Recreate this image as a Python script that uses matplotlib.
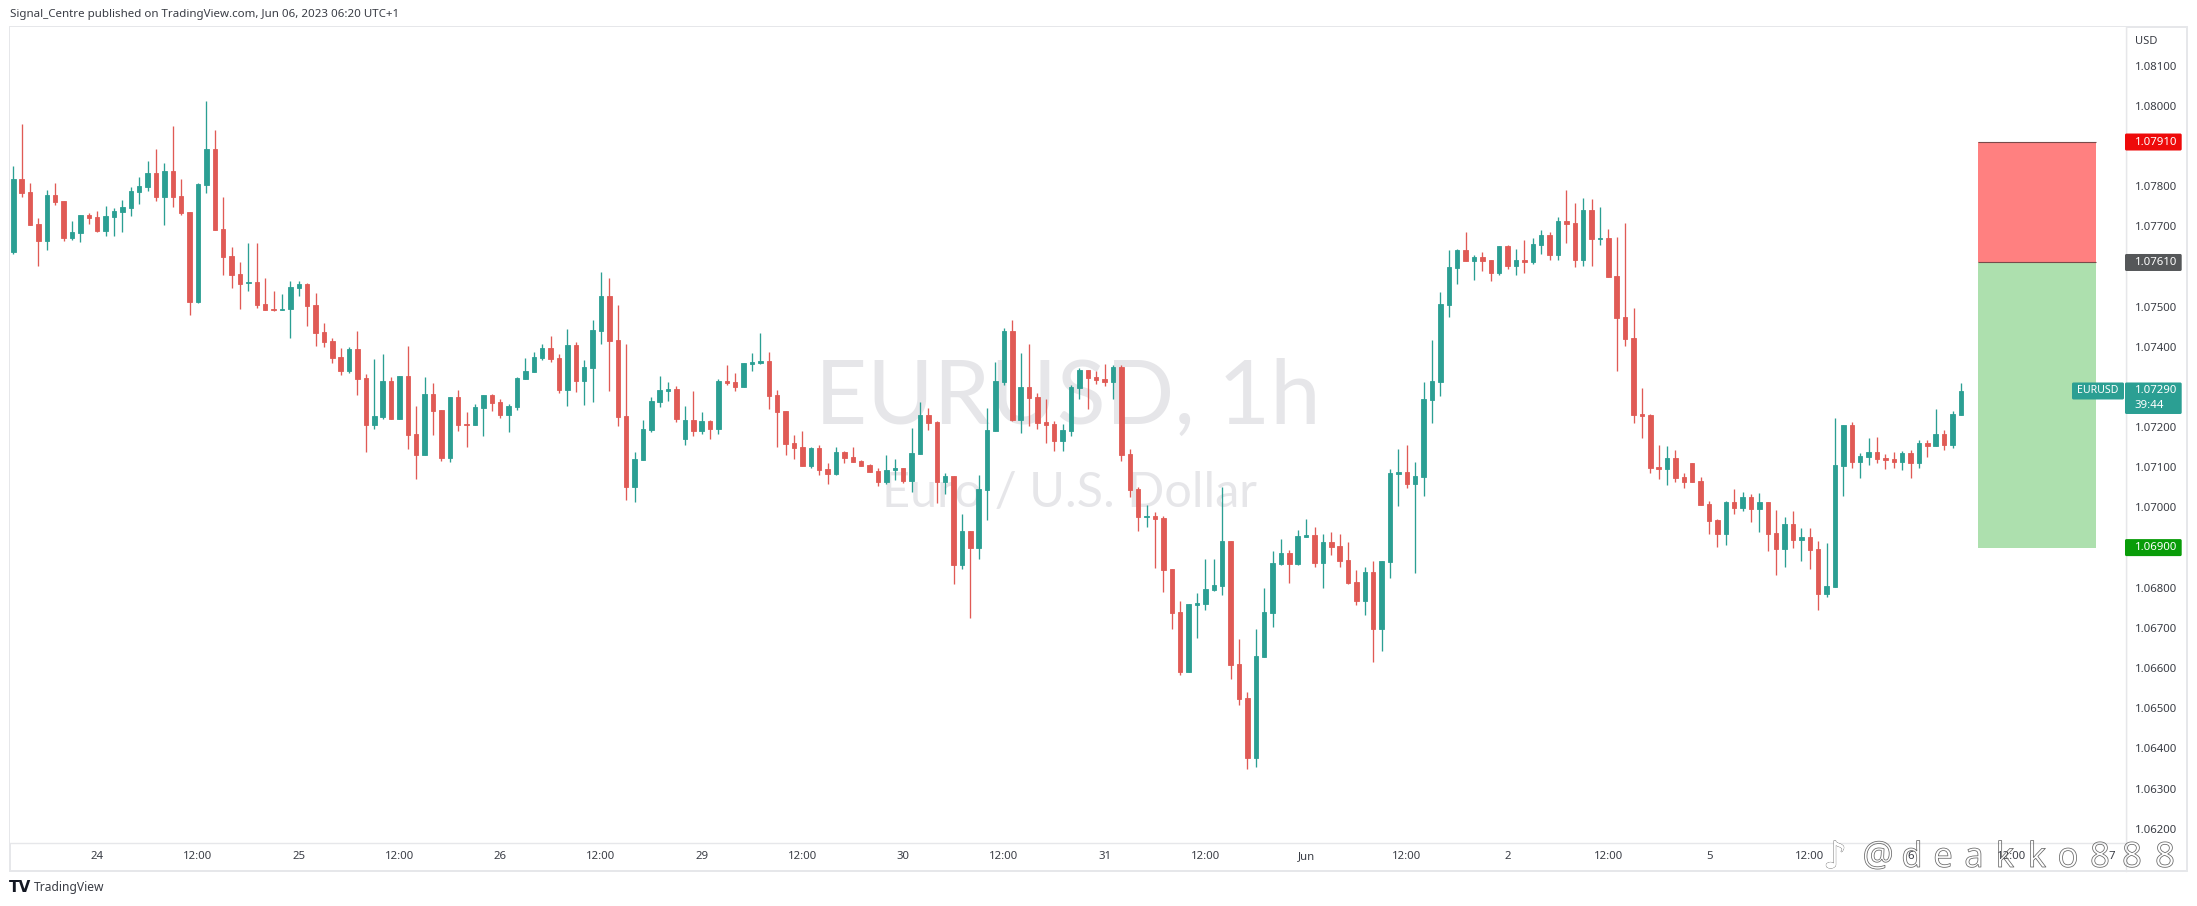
import matplotlib
matplotlib.use("Agg")
import matplotlib.pyplot as plt
import matplotlib.patheffects as pe
from matplotlib.patches import Rectangle, FancyBboxPatch
from matplotlib.transforms import Affine2D
from matplotlib.lines import Line2D

W, H = 2197, 906
plt.rcParams['font.family'] = ['Noto Sans', 'DejaVu Sans']

# prices, in units of 0.00001 USD
highs = [107850,107954,107808,107720,107790,107808,107763,107713,107729,107734,
107739,107750,107745,107765,107797,107822,107862,107892,107857,107949,
107818,107735,107807,108012,107940,107773,107648,107611,107658,107658,
107571,107539,107531,107565,107565,107558,107533,107459,107423,107397,
107399,107439,107332,107369,107382,107324,107327,107402,107252,107324,
107310,107242,107275,107292,107237,107257,107280,107282,107271,107257,
107325,107372,107387,107407,107427,107382,107444,107412,107367,107467,
107586,107571,107504,107407,107138,107218,107275,107327,107312,107303,
107253,107290,107238,107218,107320,107355,107335,107360,107385,107435,
107387,107293,107240,107181,107190,107151,107156,107111,107151,107141,
107151,107118,107108,107098,107131,107121,107098,107198,107263,107248,
107215,107086,107078,106984,106942,107081,107248,107362,107447,107467,
107385,107407,107284,107270,107215,107208,107305,107347,107342,107340,
107357,107355,107355,107146,107051,107006,106989,106979,106847,106767,
106760,106787,106872,106872,107051,106917,106672,106541,106697,106799,
106892,106921,106894,106944,106971,106951,106934,106939,106934,106914,
106844,106852,106867,106867,107096,107146,107155,107113,107312,107417,
107536,107641,107643,107686,107628,107636,107616,107651,107653,107643,
107666,107671,107691,107686,107723,107790,107758,107770,107768,107748,
107693,107673,107708,107496,107297,107232,107155,107153,107143,107086,
107111,107076,107016,106971,107016,107046,107038,107033,107036,107014,
106994,106976,106991,106949,106949,106916,106911,107223,107205,107213,
107136,107173,107175,107133,107138,107140,107143,107168,107168,107245,
107193,107240,107310]

body_tops = [107817,107817,107785,107705,107778,107778,107763,107686,107728,107728,
107723,107725,107738,107748,107788,107800,107834,107834,107837,107837,
107775,107735,107805,107892,107892,107693,107626,107581,107561,107561,
107506,107494,107495,107549,107556,107556,107504,107437,107414,107374,
107394,107394,107322,107227,107314,107314,107327,107327,107183,107282,
107282,107242,107275,107275,107207,107250,107280,107280,107262,107252,
107323,107340,107375,107397,107397,107372,107405,107405,107350,107442,
107527,107527,107417,107228,107121,107195,107265,107293,107295,107295,
107218,107218,107215,107215,107315,107315,107312,107360,107362,107365,
107365,107280,107240,107161,107151,107148,107148,107096,107138,107138,
107126,107116,107106,107091,107093,107098,107098,107136,107230,107230,
107213,107078,107078,106942,106942,107046,107193,107315,107440,107440,
107300,107300,107275,107213,107208,107193,107300,107342,107342,107325,
107320,107350,107350,107133,107046,106979,106979,106974,106847,106740,
106760,106761,106797,106807,106917,106917,106610,106526,106630,106740,
106862,106887,106887,106929,106931,106931,106914,106914,106904,106869,
106814,106839,106839,106867,107086,107088,107088,107078,107270,107315,
107506,107598,107641,107641,107623,107623,107616,107651,107651,107616,
107616,107656,107678,107678,107713,107713,107708,107740,107740,107671,
107671,107576,107474,107422,107232,107230,107100,107123,107123,107076,
107111,107066,107009,106969,107014,107014,107026,107026,107014,107014,
106936,106959,106959,106926,106926,106896,106804,107106,107205,107205,
107128,107138,107138,107123,107121,107136,107136,107160,107160,107183,
107183,107233,107290]

body_bots = [107637,107783,107704,107664,107664,107761,107671,107671,107684,107721,
107688,107688,107724,107735,107745,107785,107798,107773,107773,107773,
107732,107511,107511,107803,107691,107623,107578,107556,107558,107504,
107491,107491,107492,107494,107546,107501,107434,107412,107372,107339,
107339,107319,107205,107205,107225,107220,107220,107180,107130,107130,
107240,107123,107123,107205,107205,107205,107247,107260,107230,107230,
107250,107320,107337,107372,107370,107293,107293,107315,107315,107347,
107440,107415,107225,107051,107051,107118,107193,107263,107290,107220,
107171,107190,107190,107195,107195,107310,107300,107300,107358,107360,
107278,107238,107158,107148,107103,107103,107093,107083,107083,107123,
107113,107103,107088,107063,107063,107092,107066,107066,107133,107210,
107063,107063,106857,106857,106899,106899,107044,107190,107312,107218,
107218,107273,107210,107205,107165,107165,107190,107297,107322,107317,
107312,107312,107131,107043,106976,106976,106971,106844,106737,106590,
106590,106758,106760,106795,106804,106608,106523,106376,106376,106628,
106737,106859,106859,106859,106926,106862,106862,106902,106867,106812,
106767,106767,106697,106697,106864,107083,107058,107058,107076,107267,
107312,107504,107596,107613,107613,107613,107584,107584,107601,107601,
107611,107611,107653,107628,107628,107706,107616,107616,107668,107668,
107574,107471,107419,107230,107227,107098,107095,107095,107073,107063,
107063,107006,106966,106934,106934,106999,106999,106996,106996,106934,
106896,106896,106919,106919,106894,106784,106784,106802,107103,107113,
107113,107126,107121,107118,107113,107113,107111,107111,107153,107153,
107155,107155,107230]

lows = [107630,107772,107704,107602,107641,107754,107664,107666,107661,107705,
107686,107676,107676,107686,107725,107755,107788,107762,107703,107748,
107729,107479,107510,107783,107691,107578,107546,107494,107539,107496,
107491,107488,107492,107422,107526,107451,107403,107399,107359,107329,
107334,107280,107138,107195,107220,107220,107220,107145,107070,107130,
107180,107115,107113,107191,107150,107205,107177,107240,107222,107188,
107242,107320,107337,107367,107362,107285,107253,107288,107255,107263,
107407,107290,107203,107019,107014,107118,107188,107250,107264,107213,
107156,107178,107183,107171,107183,107305,107290,107300,107340,107357,
107245,107151,107131,107121,107103,107098,107081,107059,107081,107111,
107113,107103,107088,107054,107059,107068,107061,107039,107133,107193,
107010,107034,106810,106847,106725,106872,106969,107190,107305,107215,
107185,107203,107196,107161,107141,107141,107178,107270,107245,107307,
107302,107270,107116,107026,106941,106951,106849,106790,106697,106583,
106590,106675,106745,106792,106782,106573,106508,106349,106354,106628,
106702,106857,106812,106857,106926,106852,106799,106882,106852,106809,
106757,106732,106615,106643,106824,107004,107048,106837,107029,107210,
107277,107474,107556,107613,107566,107589,107564,107579,107593,107579,
107584,107606,107631,107616,107616,107658,107598,107601,107601,107653,
107574,107340,107402,107210,107173,107086,107071,107056,107063,107048,
107063,107006,106934,106901,106906,106984,106991,106964,106939,106891,
106832,106852,106899,106867,106847,106745,106777,106802,107028,107098,
107073,107106,107111,107096,107098,107093,107073,107098,107126,107153,
107143,107148,107230]

directions = ("GRRRGRRGGR" "RGGGGGGRGR" "RRGGRRRRGR" "RRGGGRRRRR" "GRRGGRGRRG"
              "RRGRRGGRRG" "GGGGRRGRGG" "GRRRGGGGGR" "GRGRGRRGGG" "RRRRRGRRGR"
              "RRRRGGRGGR" "RGRGRGGGGR" "GRRRRGGGRR" "RGRRRGRRRR" "GGGGGRRRGG"
              "GGRGGRGRRR" "RGRGGGRGGG" "GGGRGRRGRG" "RGGRGRRGRG" "RRRRRRRGRR"
              "RRRRGRGRGR" "RGRGRRGGGR" "GGRRRGRGRG" "RGG")

day_tick_index = [10, 22, 34, 46, 58, 70, 82, 94, 106, 118, 130, 142, 154, 166, 178, 190, 202, 214, 226, 238, 250]
day_tick_labels = ['24', '12:00', '25', '12:00', '26', '12:00', '29', '12:00', '30', '12:00',
                   '31', '12:00', 'Jun', '12:00', '2', '12:00', '5', '12:00', '6', '12:00', '7']
price_ticks = [1.081, 1.080, 1.078, 1.077, 1.075, 1.074, 1.072, 1.071, 1.070,
               1.068, 1.067, 1.066, 1.065, 1.064, 1.063, 1.062]
stop_price, entry_price, target_price, last_price = 1.0791, 1.0761, 1.0690, 1.0729

UP, DOWN = '#2b9f93', '#e05a55'
FRAME = '#e6e7ea'
TEXT = '#3a3d45'
WATERMARK = '#e6e6e9'

fig = plt.figure(figsize=(W / 100, H / 100), dpi=100, facecolor='white')
L, R, T, B = 10, 2125.7, 27, 843
ax = fig.add_axes([L / W, 1 - B / H, (R - L) / W, (B - T) / H])
px = Affine2D().scale(1 / W, -1 / H).translate(0, 1) + fig.transFigure

ax.set_xlim(-0.393, 251.63)
ax.set_ylim(1.061644, 1.081964)
for s in ('top', 'left'):
    ax.spines[s].set_visible(False)
for s in ('right', 'bottom'):
    ax.spines[s].set_color(FRAME)
    ax.spines[s].set_linewidth(1.0)
ax.yaxis.tick_right()
ax.set_yticks(price_ticks)
ax.set_yticklabels([f'{p:.5f}' for p in price_ticks])
ax.set_xticks(day_tick_index)
ax.set_xticklabels(day_tick_labels)
ax.tick_params(axis='y', length=0, pad=6.3, labelsize=8.2, labelcolor=TEXT)
ax.tick_params(axis='x', length=0, pad=5.5, labelsize=8.2, labelcolor=TEXT)

# outer frame
fig.add_artist(Rectangle((L, T), 2187.3 - L, 871 - T, transform=px, fill=False,
                         edgecolor=FRAME, linewidth=1.4, zorder=0))
fig.add_artist(Line2D([R, R], [T, 871], transform=px, color=FRAME, lw=1.0, zorder=0))

# watermark
ax.text(1068, 424, 'EURUSD, 1h', transform=px, ha='center', va='baseline', fontsize=65,
        color=WATERMARK, zorder=0, family='Lato')
ax.text(1069, 507, 'Euro / U.S. Dollar', transform=px, ha='center', va='baseline', fontsize=35,
        color=WATERMARK, zorder=0, family='Lato')

# position box
box_x0, box_x1 = 234, 248.1
ax.add_patch(Rectangle((box_x0, entry_price), box_x1 - box_x0, stop_price - entry_price,
                       facecolor='#ff8080', edgecolor='none', zorder=1))
ax.add_patch(Rectangle((box_x0, target_price), box_x1 - box_x0, entry_price - target_price,
                       facecolor='#ade0ae', edgecolor='none', zorder=1))
ax.hlines([stop_price, entry_price], box_x0, box_x1, colors='#7a4a4a', lw=0.8, zorder=2)

# candles
xs = list(range(len(highs)))
tops = [v / 1e5 for v in body_tops]
bots = [v / 1e5 for v in body_bots]
colors = [UP if d == 'G' else DOWN for d in directions]
ax.vlines(xs, [v / 1e5 for v in lows], [v / 1e5 for v in highs], colors=colors, lw=0.95, zorder=3)
ax.bar(xs, [t - b for t, b in zip(tops, bots)], bottom=bots, width=0.53, color=colors,
       edgecolor=colors, linewidth=0.6, zorder=4)


def price_y(p):
    return ax.transData.transform((0, p))[1] * -1 + H


def tag(x0, x1, y0, y1, color):
    fig.add_artist(FancyBboxPatch((x0 + 1, y0 + 1), x1 - x0 - 2, y1 - y0 - 2,
                                  boxstyle='round,pad=1,rounding_size=1.5', transform=px,
                                  facecolor=color, edgecolor='none', zorder=6))


for p, c in ((stop_price, '#ee0a0a'), (entry_price, '#555759'), (target_price, '#099c09')):
    y = price_y(p)
    tag(2125, 2181.7, y - 8.5, y + 8.5, c)
    fig.text(2134.7 / W, 1 - y / H, f'{p:.5f}', color='white', fontsize=8.2, fontweight='bold',
             ha='left', va='center', zorder=7)

y = price_y(last_price)
tag(2125, 2181.7, y - 8.5, y + 23, UP)
tag(2072, 2124, y - 8.5, y + 8.5, UP)
fig.text(2134.7 / W, 1 - y / H, f'{last_price:.5f}', color='white', fontsize=8.2, fontweight='bold',
         ha='left', va='center', zorder=7)
fig.text(2134.7 / W, 1 - (y + 14.5) / H, '39:44', color='white', fontsize=8.2,
         ha='left', va='center', zorder=7)
fig.text(2098 / W, 1 - y / H, 'EURUSD', color='white', fontsize=7.6, fontweight='bold',
         ha='center', va='center', zorder=7)

# header and footer
fig.text(2134.7 / W, 1 - 41 / H, 'USD', color=TEXT, fontsize=8.0, ha='left', va='center')
fig.text(10 / W, 1 - 15 / H, 'Signal_Centre published on TradingView.com, Jun 06, 2023 06:20 UTC+1',
         color=TEXT, fontsize=8.3, ha='left', va='center')
fig.text(9 / W, 1 - 887.5 / H, 'TV', color='#131722', fontsize=11, fontweight='black', ha='left',
         va='center', family='DejaVu Sans')
fig.text(34 / W, 1 - 888 / H, 'TradingView', color=TEXT, fontsize=8.7, ha='left', va='center')

# overlaid handle watermark: hollow glyphs, tick labels stay visible through them
stroke = [pe.withStroke(linewidth=0.55, foreground='#666666')]
hollow = (1, 1, 1, 0)
fig.text(1835 / W, 1 - 858 / H, '\u266a', color='white', fontsize=27, ha='center', va='center',
         family='DejaVu Sans', path_effects=stroke, zorder=8)
fig.text(1878 / W, 1 - 857 / H, '@', color=hollow, fontsize=25, ha='center', va='center',
         path_effects=stroke, zorder=8)
for cx, ch in zip([1912, 1943, 1974, 2005, 2037, 2068, 2100, 2132, 2165], 'deakko888'):
    fig.text(cx / W, 1 - 867 / H, ch, color=hollow, fontsize=25, ha='center', va='baseline',
             path_effects=stroke, zorder=8)

fig.savefig('out.png', dpi=100, facecolor='white')
